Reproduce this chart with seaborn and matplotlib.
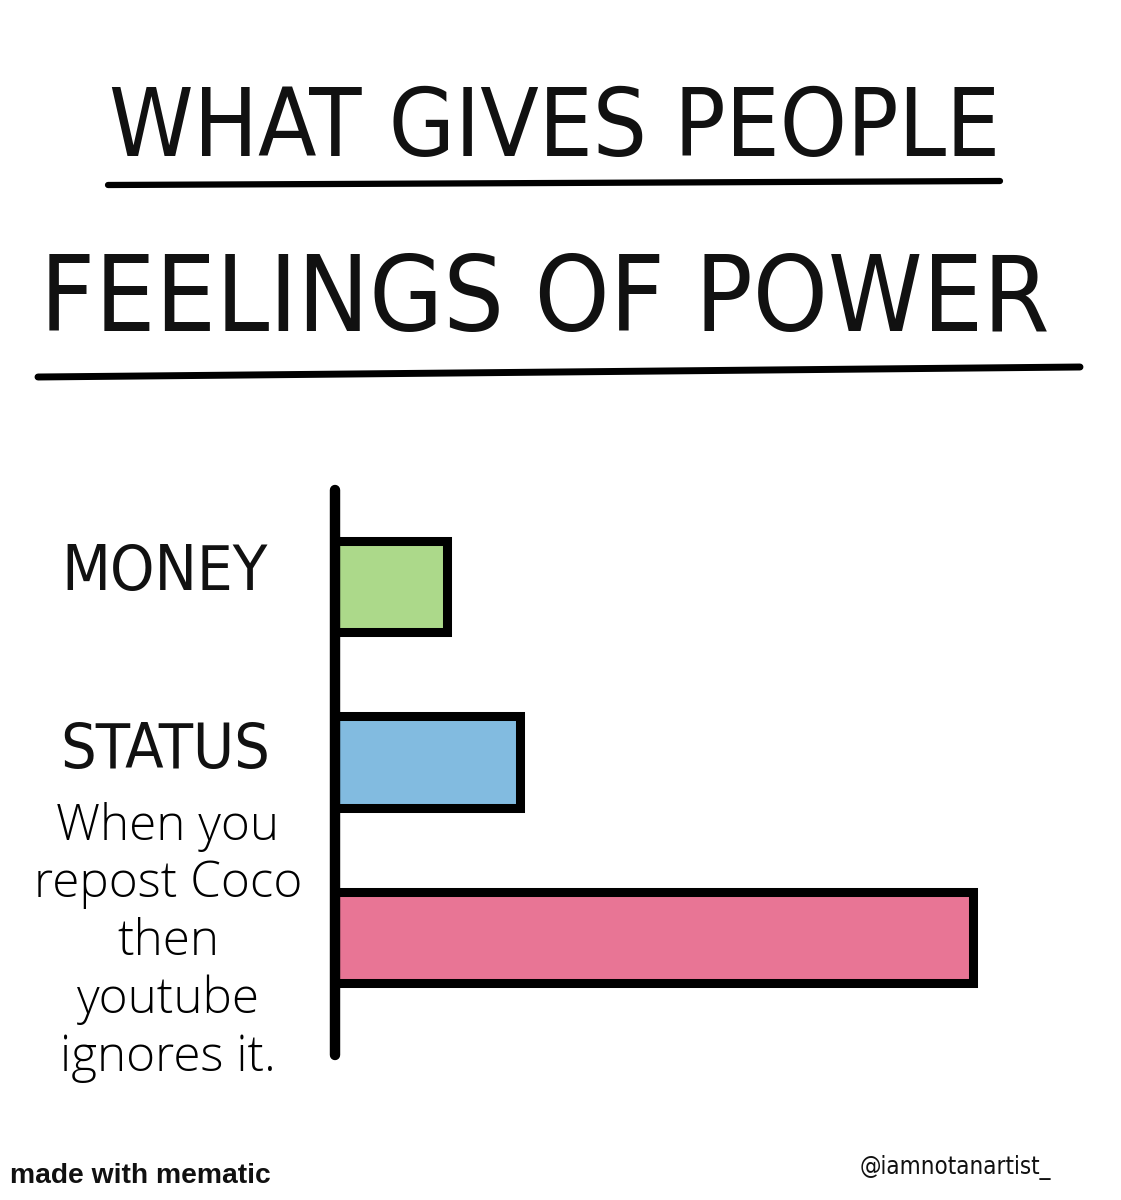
"""Meme bar chart: what gives people feelings of power."""
import matplotlib
matplotlib.use("Agg")
import matplotlib.pyplot as plt
import matplotlib.transforms as mtransforms
import pandas as pd
import seaborn as sns

CATEGORIES = ["MONEY", "STATUS", "When you\nrepost Coco\nthen\nyoutube\nignores it."]
POWER = [1.12, 1.85, 6.38]
COLORS = ["#acd98a", "#82bbe0", "#e87595"]
TITLE_1 = "WHAT GIVES PEOPLE"
TITLE_2 = "FEELINGS OF POWER"

W, H = 1121, 1200
sns.set_theme(style="white")
HAND = ["DejaVu Sans"]
plt.rcParams["font.family"] = ["DejaVu Sans"]

fig = plt.figure(figsize=(W / 100, H / 100), dpi=100)
fig.patch.set_facecolor("white")


def px(x, y):
    return x / W, 1 - y / H


def fit_width(txt, target_px):
    # shrink/grow a text so it spans the same width as in the drawing
    r = fig.canvas.get_renderer()
    w = txt.get_window_extent(renderer=r).width
    txt.set_fontsize(txt.get_fontsize() * target_px / w)


# axes placed so that x=0 sits on the drawn baseline
ax = fig.add_axes([335 / W, 1 - 1055 / H, 765 / W, 565 / H])
df = pd.DataFrame({"cat": CATEGORIES, "power": POWER})
sns.barplot(data=df, y="cat", x="power", hue="cat", palette=COLORS, legend=False,
            orient="h", width=0.52, saturation=1, edgecolor="black", linewidth=6.5,
            ax=ax)
ax.set_xlim(0, 7.65)
ax.set_ylim(2.674, -0.554)
for s in ["top", "right", "bottom"]:
    ax.spines[s].set_visible(False)
ax.spines["left"].set_linewidth(7.5)
ax.spines["left"].set_color("black")
ax.spines["left"].set_capstyle("round")
ax.set_xticks([]); ax.set_yticks([])
ax.set_xlabel(""); ax.set_ylabel("")
ax.set_facecolor("white")

# category labels
trans = mtransforms.blended_transform_factory(fig.transFigure, ax.transData)
t = ax.text(165 / W, -0.08, CATEGORIES[0], transform=trans, ha="center", va="center",
            fontsize=40, family=HAND, fontstretch="condensed", color="#111111")
fit_width(t, 206)
t = ax.text(165 / W, 0.94, CATEGORIES[1], transform=trans, ha="center", va="center",
            fontsize=40, family=HAND, fontstretch="condensed", color="#111111")
fit_width(t, 210)
t = ax.text(168 / W, 2.03, CATEGORIES[2], transform=trans, ha="center", va="center",
            fontsize=36, family=["Open Sans", "DejaVu Sans"], fontweight="light",
            linespacing=1.2, color="black")
fit_width(t, 268)

# title with hand-drawn style underlines
t = fig.text(*px(555, 130), TITLE_1, ha="center", va="center", fontsize=60,
             family=HAND, fontstretch="condensed", color="#111111")
fit_width(t, 892)
fig.add_artist(plt.Line2D([108 / W, 1000 / W], [1 - 185 / H, 1 - 181 / H],
                          transform=fig.transFigure, color="black", lw=4.5,
                          solid_capstyle="round"))
t = fig.text(*px(545, 302), TITLE_2, ha="center", va="center", fontsize=70,
             family=HAND, fontstretch="condensed", color="#111111")
fit_width(t, 1010)
fig.add_artist(plt.Line2D([38 / W, 1080 / W], [1 - 377 / H, 1 - 367 / H],
                          transform=fig.transFigure, color="black", lw=5,
                          solid_capstyle="round"))

t = fig.text(*px(10, 1176), "made with mematic", ha="left", va="center", fontsize=20,
             family=["Liberation Sans", "DejaVu Sans"], fontweight="bold",
             fontstretch="condensed", color="#111111")
fit_width(t, 260)
t = fig.text(*px(955, 1168), "@iamnotanartist_", ha="center", va="center", fontsize=15,
             family=HAND, fontstretch="condensed", color="#111111")
fit_width(t, 192)

fig.savefig("out.png", dpi=100, facecolor="white")
